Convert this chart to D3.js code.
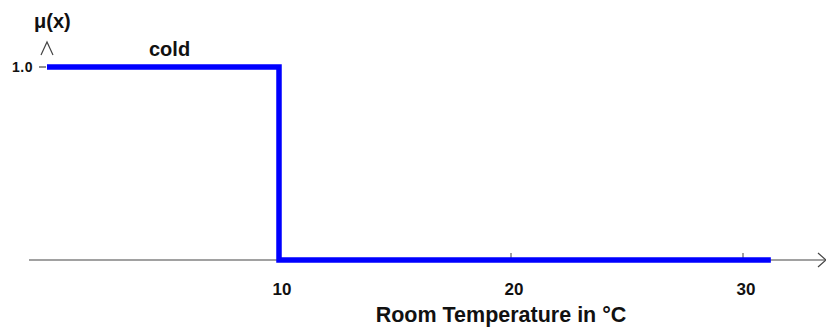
<!DOCTYPE html>
<html>
<head>
<meta charset="utf-8">
<script src="https://cdn.jsdelivr.net/npm/d3@7"></script>
<style>
  body { margin: 0; background: #fff; }
  text { font-family: "Liberation Sans", Arial, sans-serif; font-weight: bold; fill: #111; }
</style>
</head>
<body>
<div id="chart"></div>
<script>
// membership function "cold" (crisp set)
var temps = [0, 10, 10, 31.2];
var mu = [1, 1, 0, 0];
var xTicks = [10, 20, 30];
var yTicks = [1.0];

var width = 826, height = 329;

var svg = d3.select("#chart")
    .append("svg")
    .attr("width", width)
    .attr("height", height);

var x = d3.scaleLinear().domain([0, 30]).range([47, 743]);
var y = d3.scaleLinear().domain([0, 1]).range([260, 67]);

// x axis line + open arrow
svg.append("line")
    .attr("x1", 29).attr("x2", 825)
    .attr("y1", y(0)).attr("y2", y(0))
    .attr("stroke", "#444").attr("stroke-width", 1.2);
svg.append("path")
    .attr("d", `M818,${y(0) - 7}L826,${y(0)}L818,${y(0) + 7}`)
    .attr("fill", "none").attr("stroke", "#444").attr("stroke-width", 1.2);

// small tick marks above the axis
svg.selectAll(".xtick")
    .data(xTicks)
    .join("line")
    .attr("class", "xtick")
    .attr("x1", d => x(d)).attr("x2", d => x(d))
    .attr("y1", y(0) - 7).attr("y2", y(0))
    .attr("stroke", "#444").attr("stroke-width", 1);

svg.selectAll(".xlabel")
    .data(xTicks)
    .join("text")
    .attr("class", "xlabel")
    .attr("x", d => x(d) + 3)
    .attr("y", 295)
    .attr("text-anchor", "middle")
    .attr("font-size", "17px")
    .text(d => d);

svg.append("text")
    .attr("x", 501)
    .attr("y", 322)
    .attr("text-anchor", "middle")
    .attr("font-size", "21.5px")
    .text("Room Temperature in °C");

// y axis: only the arrow head and the 1.0 tick
svg.append("path")
    .attr("d", `M${x(0) - 6},${y(1) - 12}L${x(0)},${y(1) - 25}L${x(0) + 6},${y(1) - 12}`)
    .attr("fill", "none").attr("stroke", "#444").attr("stroke-width", 1.2);

svg.selectAll(".ytick")
    .data(yTicks)
    .join("line")
    .attr("class", "ytick")
    .attr("x1", x(0) - 8).attr("x2", x(0) - 1)
    .attr("y1", d => y(d)).attr("y2", d => y(d))
    .attr("stroke", "#444").attr("stroke-width", 1.2);

svg.selectAll(".ylabel")
    .data(yTicks)
    .join("text")
    .attr("class", "ylabel")
    .attr("x", 12)
    .attr("y", d => y(d) + 5)
    .attr("font-size", "14px")
    .attr("letter-spacing", "0.5px")
    .text(d => d.toFixed(1));

svg.append("text")
    .attr("x", 34)
    .attr("y", 28)
    .attr("font-size", "20px")
    .text("μ(x)");

svg.append("text")
    .attr("x", 149)
    .attr("y", 56)
    .attr("font-size", "20px")
    .text("cold");

// the membership line
var line = d3.line()
    .x((d, i) => x(temps[i]))
    .y(d => y(d));

svg.append("path")
    .datum(mu)
    .attr("d", line)
    .attr("fill", "none")
    .attr("stroke", "#0000ff")
    .attr("stroke-width", 5.5)
    .attr("stroke-linejoin", "miter");
</script>
</body>
</html>
